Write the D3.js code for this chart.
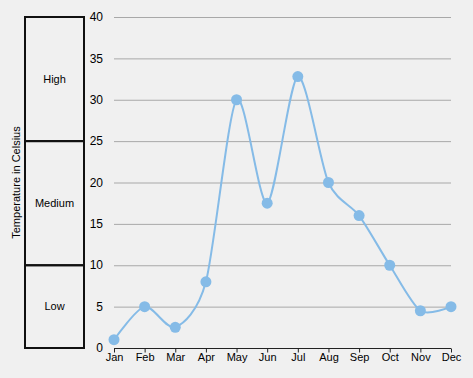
<!DOCTYPE html>
<html lang="en">
<head>
<meta charset="UTF-8">
<title>Temperature</title>
<style>
    body { margin: 0; background: #f0f0f0; }
    svg { display: block; font-family: "Liberation Sans", Arial, sans-serif; }
</style>
</head>
<body>
<svg class="chart"></svg>
<script src="https://d3js.org/d3.v7.min.js"></script>
<script>
// data
var months = ['Jan', 'Feb', 'Mar', 'Apr', 'May', 'Jun', 'Jul', 'Aug', 'Sep', 'Oct', 'Nov', 'Dec'];
var temps = [1, 5, 2.5, 8, 30, 17.5, 32.8, 20, 16, 10, 4.5, 5];
var yTicks = [0, 5, 10, 15, 20, 25, 30, 35, 40];
var bandNames = ['Low', 'Medium', 'High'];
var bandFrom = [0, 10, 25];
var bandTo = [10, 25, 40];

var width = 473, height = 378;
var plot = {left: 114, right: 451, top: 17, bottom: 348};

var svg = d3.select('.chart')
    .attr('width', width)
    .attr('height', height);

var x = d3.scalePoint().domain(months).range([plot.left, plot.right]);
var y = d3.scaleLinear().domain([0, 40]).range([plot.bottom, plot.top]);

// gridlines
svg.append('g')
    .selectAll('line')
    .data(yTicks.filter(d => d > 0))
    .enter()
    .append('line')
    .attr('x1', plot.left)
    .attr('x2', plot.right)
    .attr('y1', d => y(d) + 0.5)
    .attr('y2', d => y(d) + 0.5)
    .attr('stroke', '#a8a8a8')
    .attr('stroke-width', 1);

// y tick labels (no axis line)
svg.append('g')
    .selectAll('text')
    .data(yTicks)
    .enter()
    .append('text')
    .attr('x', 103)
    .attr('y', d => y(d))
    .attr('dy', '0.35em')
    .attr('text-anchor', 'end')
    .attr('font-size', 12)
    .attr('fill', '#000')
    .text(d => d);

// x axis
var xAxis = d3.axisBottom(x).tickSize(4).tickSizeOuter(0);
var xg = svg.append('g')
    .attr('transform', `translate(0, ${plot.bottom + 0.5})`)
    .call(xAxis);
xg.select('.domain').attr('stroke', '#222').attr('d', `M${plot.left},0H${plot.right}`);
xg.selectAll('.tick line').attr('stroke', '#222');
xg.selectAll('.tick text')
    .attr('font-size', 11)
    .attr('font-family', '"Liberation Sans", Arial, sans-serif')
    .attr('fill', '#000')
    .attr('y', 5);

// band boxes on the left
var bands = svg.append('g');
bandNames.forEach(function(name, i) {
    var y0 = y(bandTo[i]), y1 = y(bandFrom[i]);
    bands.append('rect')
        .attr('x', 25)
        .attr('y', y0)
        .attr('width', 59)
        .attr('height', y1 - y0)
        .attr('fill', 'none')
        .attr('stroke', '#111')
        .attr('stroke-width', 2);
    bands.append('text')
        .attr('x', 54.5)
        .attr('y', (y0 + y1) / 2)
        .attr('dy', '0.35em')
        .attr('text-anchor', 'middle')
        .attr('font-size', 11)
        .attr('fill', '#000')
        .text(name);
});

// y axis title
svg.append('text')
    .attr('transform', `translate(16, ${(plot.top + plot.bottom) / 2}) rotate(-90)`)
    .attr('dy', '0.35em')
    .attr('text-anchor', 'middle')
    .attr('font-size', 11)
    .attr('fill', '#000')
    .text('Temperature in Celsius');

// spline
var line = d3.line()
    .x((d, i) => x(months[i]))
    .y(d => y(d))
    .curve(d3.curveCardinal.tension(0.2));

svg.append('path')
    .datum(temps)
    .attr('d', line)
    .attr('fill', 'none')
    .attr('stroke', '#85bbe7')
    .attr('stroke-width', 2);

svg.append('g')
    .selectAll('circle')
    .data(temps)
    .enter()
    .append('circle')
    .attr('cx', (d, i) => x(months[i]))
    .attr('cy', d => y(d))
    .attr('r', 5.5)
    .attr('fill', '#85bbe7');
</script>
</body>
</html>
